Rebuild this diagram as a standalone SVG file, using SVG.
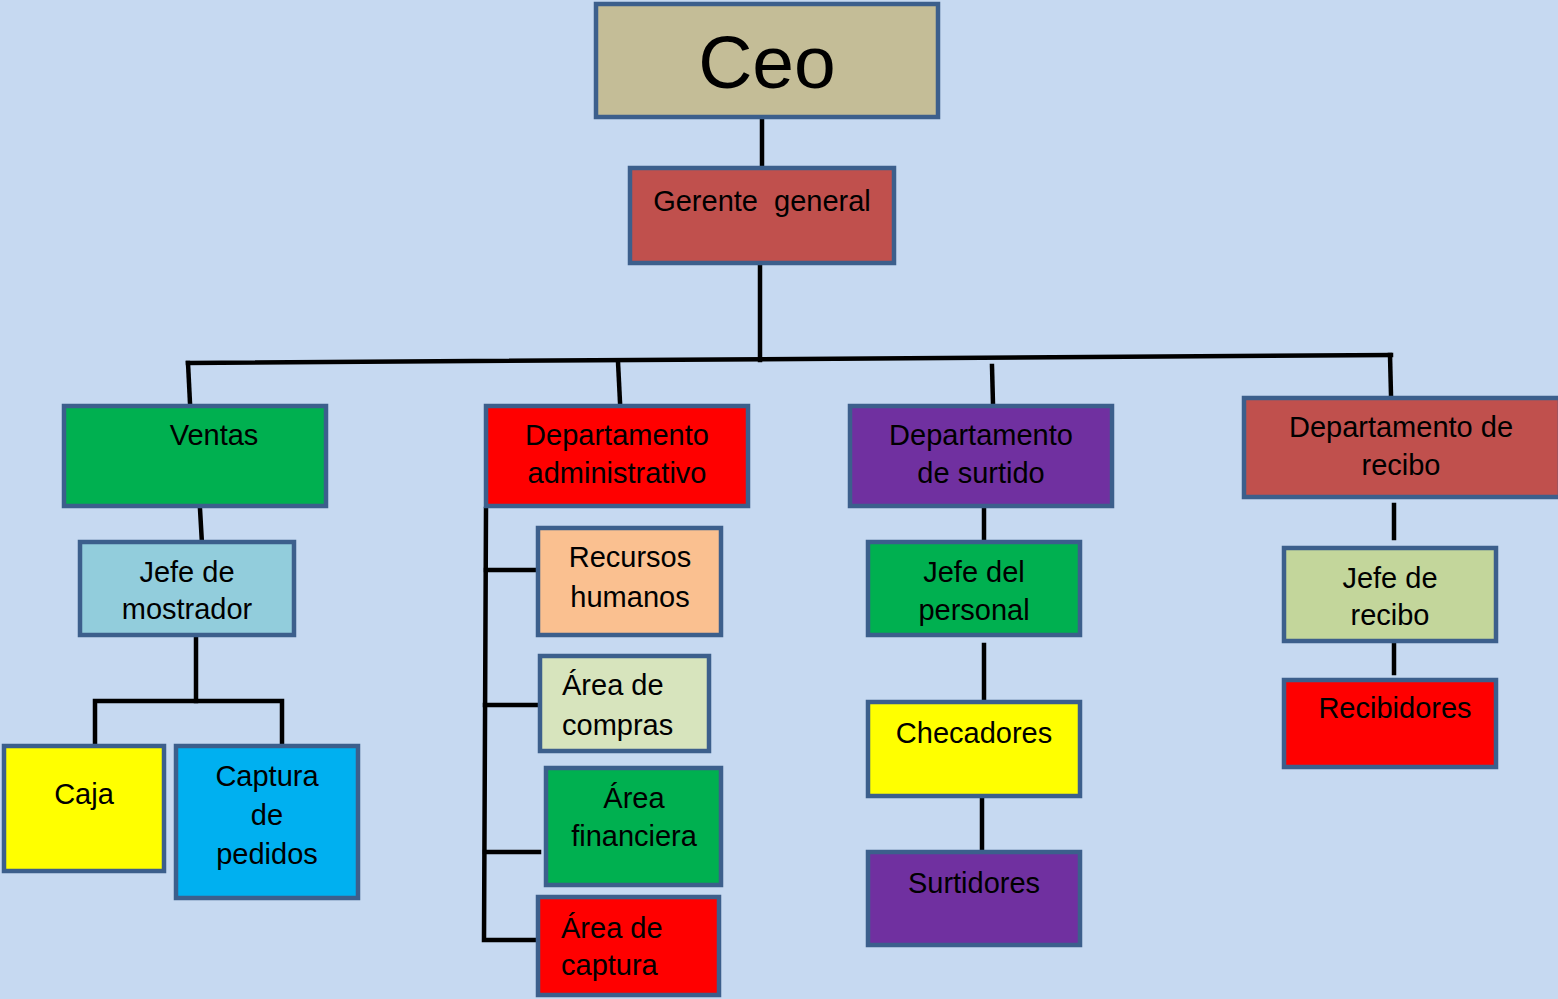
<svg xmlns="http://www.w3.org/2000/svg" width="1558" height="999" viewBox="0 0 1558 999">
<style>
.b{stroke:#3C5F8C;stroke-width:4.5;}
.t{font-family:"Liberation Sans",Arial,sans-serif;font-size:29px;fill:#000;text-anchor:middle;white-space:pre;}
.s{text-anchor:start;}
.c{fill:none;stroke:#000;stroke-width:4.5;stroke-linecap:square;}
</style>
<rect width="1558" height="999" fill="#C6D9F1"/>
<g id="connectors">
<path class="c" d="M762 120V166"/>
<path class="c" d="M760 266V360"/>
<path class="c" d="M188 363L1391 355"/>
<path class="c" d="M188 363L190 403"/>
<path class="c" d="M618 362L620 402"/>
<path class="c" d="M992 366L993 404"/>
<path class="c" d="M1390 355L1391 395"/>
<path class="c" d="M200 509L202 544"/>
<path class="c" d="M196 638V701"/>
<path class="c" d="M95 744V701H282V742"/>
<path class="c" d="M486 509L484 940H536"/>
<path class="c" d="M486 570H535"/>
<path class="c" d="M485 705H537"/>
<path class="c" d="M485 852H539"/>
<path class="c" d="M984 509V539"/>
<path class="c" d="M984 645V702"/>
<path class="c" d="M982 799V849"/>
<path class="c" d="M1394 505V538"/>
<path class="c" d="M1394 640V673"/>
</g>
<g id="ceo"><rect class="b" x="596" y="4" width="342" height="113" fill="#C4BD97"/><text class="t" x="767" y="88" style="font-size:75px">Ceo</text></g>
<g id="gerente"><rect class="b" x="630" y="168" width="264" height="95" fill="#C0504D"/><text class="t" x="762" y="211">Gerente  general</text></g>
<g id="ventas"><rect class="b" x="64" y="406" width="262" height="100" fill="#00B050"/><text class="t" x="214" y="445">Ventas</text></g>
<g id="jefe-mostrador"><rect class="b" x="80" y="542" width="214" height="93" fill="#92CDDC"/><text class="t" x="187" y="582">Jefe de</text><text class="t" x="187" y="619">mostrador</text></g>
<g id="caja"><rect class="b" x="4" y="746" width="160" height="125" fill="#FFFF00"/><text class="t" x="84" y="804">Caja</text></g>
<g id="captura-pedidos"><rect class="b" x="176" y="746" width="182" height="152" fill="#00B0F0"/><text class="t" x="267" y="786">Captura</text><text class="t" x="267" y="825">de</text><text class="t" x="267" y="864">pedidos</text></g>
<g id="dep-admin"><rect class="b" x="486" y="406" width="262" height="100" fill="#FF0000"/><text class="t" x="617" y="445">Departamento</text><text class="t" x="617" y="483">administrativo</text></g>
<g id="recursos"><rect class="b" x="538" y="528" width="183" height="107" fill="#FAC090"/><text class="t" x="630" y="567">Recursos</text><text class="t" x="630" y="607">humanos</text></g>
<g id="compras"><rect class="b" x="540" y="656" width="169" height="95" fill="#D7E4BD"/><text class="t s" x="562" y="695">Área de</text><text class="t s" x="562" y="735">compras</text></g>
<g id="financiera"><rect class="b" x="546" y="768" width="175" height="117" fill="#00B050"/><text class="t" x="634" y="808">Área</text><text class="t" x="634" y="846">financiera</text></g>
<g id="captura"><rect class="b" x="538" y="897" width="181" height="98" fill="#FF0000"/><text class="t s" x="561" y="938">Área de</text><text class="t s" x="561" y="975">captura</text></g>
<g id="dep-surtido"><rect class="b" x="850" y="406" width="262" height="100" fill="#7030A0"/><text class="t" x="981" y="445">Departamento</text><text class="t" x="981" y="483">de surtido</text></g>
<g id="jefe-personal"><rect class="b" x="868" y="542" width="212" height="93" fill="#00B050"/><text class="t" x="974" y="582">Jefe del</text><text class="t" x="974" y="620">personal</text></g>
<g id="checadores"><rect class="b" x="868" y="702" width="212" height="94" fill="#FFFF00"/><text class="t" x="974" y="743">Checadores</text></g>
<g id="surtidores"><rect class="b" x="868" y="852" width="212" height="93" fill="#7030A0"/><text class="t" x="974" y="893">Surtidores</text></g>
<g id="dep-recibo"><rect class="b" x="1244" y="398" width="316" height="99" fill="#C0504D"/><text class="t" x="1401" y="437">Departamento de</text><text class="t" x="1401" y="475">recibo</text></g>
<g id="jefe-recibo"><rect class="b" x="1284" y="548" width="212" height="93" fill="#C3D69B"/><text class="t" x="1390" y="588">Jefe de</text><text class="t" x="1390" y="625">recibo</text></g>
<g id="recibidores"><rect class="b" x="1284" y="680" width="212" height="87" fill="#FF0000"/><text class="t" x="1395" y="718">Recibidores</text></g>
</svg>
